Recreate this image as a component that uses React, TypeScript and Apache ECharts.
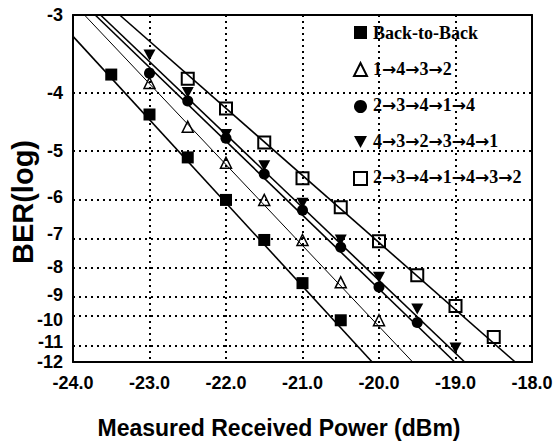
import React, { useEffect, useRef } from 'react';
import * as echarts from 'echarts';

// ---- axis ticks ----
const yTickLogBer = [-3, -4, -5, -6, -7, -8, -9, -10, -11, -12];
const xMin = -24;
const xMax = -18;

// ---- series names ----
const seriesNames = ['Back-to-Back', '1→4→3→2', '2→3→4→1→4', '4→3→2→3→4→1', '2→3→4→1→4→3→2'];

// ---- measured points: received power (dBm) and log10(BER) ----
const powerB2B = [-23.5, -23.0, -22.5, -22.0, -21.5, -21.0, -20.5];
const berB2B = [-3.73, -4.34, -5.13, -6.08, -7.16, -8.57, -10.03];

const powerTri = [-23.0, -22.5, -22.0, -21.5, -21.0, -20.5, -20.0];
const berTri = [-3.85, -4.55, -5.24, -6.08, -7.16, -8.54, -10.03];

const powerCirc = [-23.0, -22.5, -22.0, -21.5, -21.0, -20.5, -20.0, -19.5];
const berCirc = [-3.71, -4.12, -4.76, -5.48, -6.34, -7.38, -8.71, -10.13];

const powerDown = [-23.0, -22.5, -22.0, -21.5, -21.0, -20.5, -20.0, -19.5, -19.0];
const berDown = [-3.47, -3.99, -4.69, -5.3, -6.16, -7.16, -8.36, -9.56, -11.29];

const powerSq = [-22.5, -22.0, -21.5, -21.0, -20.5, -20.0, -19.5, -19.0, -18.5];
const berSq = [-3.79, -4.24, -4.84, -5.57, -6.26, -7.2, -8.29, -9.44, -10.78];

// ---- fitted lines (end points) ----
const fitPowerB2B = [-24.0, -20.09];
const fitBerB2B = [-3.24, -12];
const fitPowerTri = [-23.85, -19.56];
const fitBerTri = [-3, -12];
const fitPowerCirc = [-23.71, -19.01];
const fitBerCirc = [-3, -12];
const fitPowerDown = [-23.64, -18.88];
const fitBerDown = [-3, -12];
const fitPowerSq = [-23.39, -18.22];
const fitBerSq = [-3, -12];

// ---- BER scale: log10(Q) where BER = 0.5 erfc(Q/sqrt2) ----
function logErfc(z: number): number {
  const t = 1 / (1 + 0.5 * z);
  const p =
    -z * z - 1.26551223 +
    t * (1.00002368 + t * (0.37409196 + t * (0.09678418 + t * (-0.18628806 +
    t * (0.27886807 + t * (-1.13520398 + t * (1.48851587 + t * (-0.82215223 + t * 0.17087277))))))));
  return Math.log(t) + p;
}
function qFromLogBer(L: number): number {
  let lo = 0, hi = 20;
  for (let i = 0; i < 80; i++) {
    const mid = (lo + hi) / 2;
    const v = (Math.log(0.5) + logErfc(mid / Math.SQRT2)) / Math.LN10;
    if (v > L) lo = mid; else hi = mid;
  }
  return (lo + hi) / 2;
}
const yT = (L: number) => Math.log10(qFromLogBer(L));

const yTickValues = yTickLogBer.map(yT);

function pts(xs: number[], ls: number[]) {
  return xs.map((x, i) => [x, yT(ls[i])]);
}

const downTri = 'path://M0,0 L12,0 L6,11 Z';

// legend layout
const legendLeft = 348;
const legendTop = 21;
const legendStep = 36;
const legendTextX = 373;
const legendTextY = 33;

export default function App() {
  const ref = useRef<HTMLDivElement>(null);
  useEffect(() => {
    const chart = echarts.init(ref.current!, null, { renderer: 'svg' });
    const black = '#000';
    const dots = { color: black, width: 2, type: [2, 4] };
    const fitLine = (name: string, xs: number[], ls: number[], width: number, extra: any = {}) => ({
      type: 'line',
      name: name + ' fit',
      data: pts(xs, ls),
      symbol: 'none',
      silent: true,
      lineStyle: { color: black, width },
      z: 2,
      ...extra,
    });
    const gridMarkLine = {
      silent: true,
      symbol: ['none', 'none'],
      label: { show: false },
      lineStyle: dots,
      data: yTickValues.slice(1, -1).map((v) => ({ yAxis: v })),
    };
    const richFmt = (name: string) => name.split('→').map((s) => `{n|${s}}`).join('{a|→}');
    const frameAxis = { show: true, lineStyle: { color: black, width: 2 } };
    const serifFont = '"Liberation Serif", "Times New Roman", Tinos, serif';
    const legendTexts = seriesNames.map((n, i) => ({
      type: 'text',
      x: legendTextX,
      y: legendTextY + i * legendStep,
      silent: true,
      style: {
        text: richFmt(n),
        fill: black,
        align: 'left',
        verticalAlign: 'middle',
        rich: {
          n: { fill: black, fontFamily: serifFont, fontWeight: 'bold', fontSize: 18 },
          a: { fill: black, fontFamily: 'DejaVu Sans', fontWeight: 'bold', fontSize: 17 },
        },
      },
    }));
    const option: any = {
      animation: false,
      backgroundColor: '#fff',
      grid: { left: 73, right: 25, top: 15, bottom: 86 },
      xAxis: [
        {
          type: 'value',
          min: xMin,
          max: xMax,
          interval: 1,
          axisLine: frameAxis,
          axisTick: { show: false },
          axisLabel: {
            margin: 12,
            color: black,
            fontFamily: 'Liberation Sans',
            fontWeight: 'bold',
            fontSize: 18,
            formatter: (v: number) => v.toFixed(1),
          },
          splitLine: { show: true, lineStyle: dots },
        },
        {
          type: 'value', position: 'top', min: xMin, max: xMax,
          axisLine: frameAxis, axisTick: { show: false }, axisLabel: { show: false }, splitLine: { show: false },
        },
      ],
      yAxis: [
        {
          type: 'value',
          inverse: true,
          min: yTickValues[0],
          max: yTickValues[yTickValues.length - 1],
          axisLine: frameAxis,
          axisTick: { show: false, customValues: yTickValues },
          axisLabel: {
            customValues: yTickValues,
            margin: 10,
            color: black,
            fontFamily: 'Liberation Sans',
            fontWeight: 'bold',
            fontSize: 18,
            formatter: (v: number) => {
              let best = 0, bd = Infinity;
              yTickValues.forEach((t, i) => { const d = Math.abs(t - v); if (d < bd) { bd = d; best = i; } });
              return String(yTickLogBer[best]);
            },
          },
          splitLine: { show: false },
        },
        {
          type: 'value', position: 'right', inverse: true,
          min: yTickValues[0], max: yTickValues[yTickValues.length - 1],
          axisLine: frameAxis, axisTick: { show: false }, axisLabel: { show: false }, splitLine: { show: false },
        },
      ],
      legend: {
        data: seriesNames,
        orient: 'vertical',
        left: legendLeft,
        top: legendTop,
        itemWidth: 13,
        itemHeight: 13,
        itemGap: legendStep - 13,
        formatter: () => '',
        textStyle: { fontSize: 1, lineHeight: 1 },
      },
      graphic: [
        {
          type: 'text', x: 23, y: 202, rotation: Math.PI / 2,
          style: { text: 'BER(log)', font: 'bold 29px "Liberation Sans"', fill: black, align: 'center', verticalAlign: 'middle' },
        },
        {
          type: 'text', x: 279, y: 428,
          style: { text: 'Measured Received Power (dBm)', font: 'bold 23px "Liberation Sans"', fill: black, align: 'center', verticalAlign: 'middle' },
        },
        ...legendTexts,
      ],
      series: [
        fitLine(seriesNames[0], fitPowerB2B, fitBerB2B, 1.6, { markLine: gridMarkLine }),
        fitLine(seriesNames[1], fitPowerTri, fitBerTri, 1),
        fitLine(seriesNames[2], fitPowerCirc, fitBerCirc, 1.6),
        fitLine(seriesNames[3], fitPowerDown, fitBerDown, 1.6),
        fitLine(seriesNames[4], fitPowerSq, fitBerSq, 1.6),
        { type: 'scatter', name: seriesNames[0], data: pts(powerB2B, berB2B), symbol: 'rect', symbolSize: 12, itemStyle: { color: black, opacity: 1 }, z: 3 },
        { type: 'scatter', name: seriesNames[1], data: pts(powerTri, berTri), symbol: 'triangle', symbolSize: 11, itemStyle: { color: 'rgba(255,255,255,0)', borderColor: black, borderWidth: 1.5, opacity: 1 }, z: 3 },
        { type: 'scatter', name: seriesNames[2], data: pts(powerCirc, berCirc), symbol: 'circle', symbolSize: 11, itemStyle: { color: black, opacity: 1 }, z: 3 },
        { type: 'scatter', name: seriesNames[3], data: pts(powerDown, berDown), symbol: downTri, symbolSize: [12, 11], itemStyle: { color: black, opacity: 1 }, z: 3 },
        { type: 'scatter', name: seriesNames[4], data: pts(powerSq, berSq), symbol: 'rect', symbolSize: 12, itemStyle: { color: 'rgba(255,255,255,0)', borderColor: black, borderWidth: 2, opacity: 1 }, z: 3 },
      ],
    };
    chart.setOption(option);
    return () => chart.dispose();
  }, []);
  return <div ref={ref} style={{ position: 'absolute', left: 0, top: 0, width: 557, height: 448, background: '#fff' }} />;
}
